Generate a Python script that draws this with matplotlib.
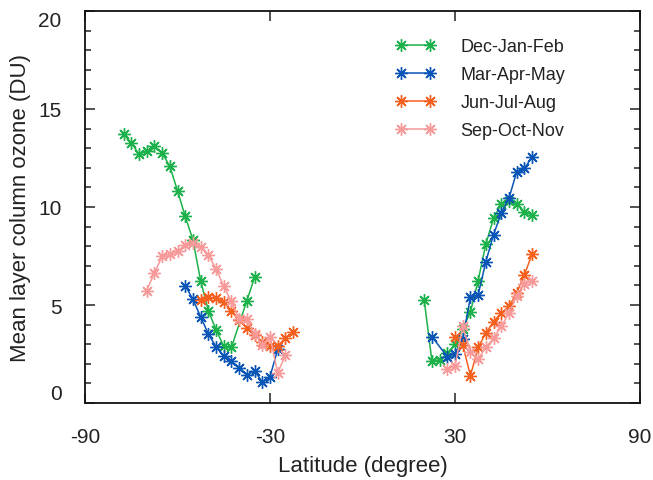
import matplotlib
matplotlib.use("Agg")
import matplotlib.pyplot as plt
from matplotlib.ticker import MultipleLocator

plt.rcParams['font.family'] = ['Liberation Sans', 'DejaVu Sans']
plt.rcParams['axes.unicode_minus'] = False

# southern hemisphere
djf_lat_s = [-77.5, -75, -72.5, -70, -67.5, -65, -62.5, -60, -57.5, -55,
             -52.5, -50, -47.5, -45, -42.5, -37.5, -35]
djf_val_s = [13.72, 13.27, 12.70, 12.84, 13.10, 12.76, 12.08, 10.83, 9.52, 8.33,
             6.24, 4.71, 3.74, 2.89, 2.84, 5.22, 6.41]

mam_lat_s = [-57.5, -55, -52.5, -50, -47.5, -45, -42.5, -40, -37.5, -35,
             -32.5, -30, -27.5]
mam_val_s = [5.99, 5.29, 4.40, 3.52, 2.87, 2.38, 2.12, 1.81, 1.44, 1.63,
             1.08, 1.35, 2.73]

jja_lat_s = [-52.5, -50, -47.5, -45, -42.5, -40, -37.5, -35, -32.5, -30,
             -27.5, -25, -22.5]
jja_val_s = [5.23, 5.39, 5.34, 5.13, 4.71, 4.23, 3.85, 3.47, 3.11, 2.92,
             2.91, 3.30, 3.61]

son_lat_s = [-70, -67.5, -65, -62.5, -60, -57.5, -55, -52.5, -50, -47.5,
             -45, -42.5, -40, -37.5, -35, -32.5, -30, -27.5, -25]
son_val_s = [5.73, 6.63, 7.48, 7.60, 7.74, 8.06, 8.15, 7.97, 7.55, 6.84,
             5.95, 5.18, 4.27, 4.29, 3.52, 2.98, 3.38, 1.54, 2.43]

# northern hemisphere
djf_lat_n = [20, 22.5, 25, 27.5, 30, 32.5, 35, 37.5, 40, 42.5, 45, 47.5, 50, 52.5, 55]
djf_val_n = [5.27, 2.16, 2.19, 2.53, 3.01, 3.78, 4.64, 6.24, 8.11, 9.42,
             10.15, 10.31, 10.15, 9.76, 9.59]

mam_lat_n = [22.5, 27.5, 30, 32.5, 35, 37.5, 40, 42.5, 45, 47.5, 50, 52.5, 55]
mam_val_n = [3.39, 2.36, 2.50, 3.27, 5.39, 5.51, 7.21, 8.59, 9.69, 10.44,
             11.80, 11.97, 12.54]

jja_lat_n = [30, 32.5, 35, 37.5, 40, 42.5, 45, 47.5, 50, 52.5, 55]
jja_val_n = [3.35, 2.97, 1.39, 2.84, 3.57, 4.15, 4.59, 4.93, 5.61, 6.53, 7.60]

son_lat_n = [27.5, 30, 32.5, 35, 37.5, 40, 42.5, 45, 47.5, 50, 52.5, 55]
son_val_n = [1.73, 1.89, 3.93, 2.59, 2.24, 2.84, 3.30, 3.91, 4.59, 5.44, 6.07, 6.24]

seasons = ['Dec-Jan-Feb', 'Mar-Apr-May', 'Jun-Jul-Aug', 'Sep-Oct-Nov']
colors = ['#1db14b', '#0a55b5', '#f5601f', '#f79a99']

south = [(djf_lat_s, djf_val_s), (mam_lat_s, mam_val_s),
         (jja_lat_s, jja_val_s), (son_lat_s, son_val_s)]
north = [(djf_lat_n, djf_val_n), (mam_lat_n, mam_val_n),
         (jja_lat_n, jja_val_n), (son_lat_n, son_val_n)]

fig = plt.figure(figsize=(6.53, 4.81), dpi=100)
ax = fig.add_axes([85/653, 1 - 404/481, 555/653, 392/481])

star = (8, 2, 0)
for i in range(4):
    kw = dict(color=colors[i], marker=star, markersize=9, mew=1.0, lw=1.1)
    ax.plot(south[i][0], south[i][1], label=seasons[i], **kw)
    ax.plot(north[i][0], north[i][1], **kw)

ax.set_xlim(-90, 90)
ax.set_ylim(0, 20)
ax.set_xticks([-90, -30, 30, 90])
ax.set_yticks([0, 5, 10, 15, 20])
ax.yaxis.set_minor_locator(MultipleLocator(1))

txt = '#222222'
for s in ax.spines.values():
    s.set_linewidth(1.3)
    s.set_color('#111111')
ax.tick_params(which='both', direction='in', top=True, right=True,
               labelsize=15, labelcolor=txt, color='#222222', width=1.1)
ax.tick_params(which='major', length=7, pad=17)
ax.tick_params(which='minor', length=4)

labs = ax.get_yticklabels()
labs[0].set_va('bottom')
labs[-1].set_va('top')

ax.set_xlabel('Latitude (degree)', fontsize=16, color=txt, labelpad=7)
ax.set_ylabel('Mean layer column ozone (DU)', fontsize=16, color=txt, labelpad=5)

leg = ax.legend(loc='upper left', bbox_to_anchor=(0.53, 0.973), frameon=False,
                numpoints=2, handlelength=2.2, handletextpad=1.4,
                labelspacing=0.62, fontsize=13)
for t in leg.get_texts():
    t.set_color(txt)

fig.savefig('out.png', dpi=100)
